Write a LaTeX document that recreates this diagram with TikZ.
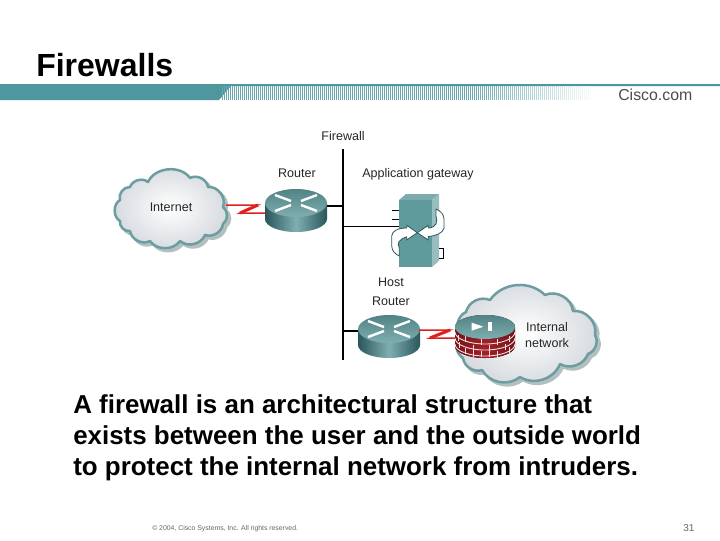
\documentclass[tikz,border=0pt]{standalone}
\usepackage{fontspec}
\setmainfont{Liberation Sans}
\usetikzlibrary{calc}
\definecolor{bandteal}{HTML}{4F979F}
\definecolor{devteal}{HTML}{5F9A9C}
\definecolor{devdark}{HTML}{2A565C}
\definecolor{devlight}{HTML}{7FAEB0}
\definecolor{cloudedge}{HTML}{6C9DA0}
\definecolor{cloudshade}{HTML}{B4C0C0}
\definecolor{cloudin}{HTML}{D6DADF}
\definecolor{brickred}{HTML}{A02028}
\definecolor{zigred}{HTML}{E0201C}
\newcommand{\cloudInternet}{(120,200) to[bend left=55] (130,187) to[bend left=55] (148,182) to[bend left=60] (190,178) to[bend left=55] (208,187) to[bend left=60] (223,207) to[bend left=55] (223,224) to[bend left=50] (205,235) to[bend left=55] (180,241) to[bend left=55] (150,241) to[bend left=55] (130,231) to[bend left=55] (120,221) to[bend left=60] cycle}
\newcommand{\cloudInside}{(466,312) to[bend left=50] (490,300) to[bend left=50] (545,295) to[bend left=55] (573,311) to[bend left=55] (595,335) to[bend left=50] (588,354) to[bend left=50] (560,364) to[bend left=50] (520,377) to[bend left=50] (482,370) to[bend left=50] (463,358) to[bend left=50] (460,335) to[bend left=50] cycle}
\tikzset{
  x=0.75pt,y=-0.75pt,
  px/.style={line width=#1*0.75pt},
  cloudbody/.style={draw=cloudedge,px=2.5,inner color=white,outer color=cloudin,line join=round},
  cloudback/.style={fill=cloudshade,draw=cloudshade,px=2.5,line join=round,shift={(3,3)}},
  lbl/.style={font=\fontsize{9.4pt}{11pt}\selectfont,text=black!85,inner sep=0pt},
  wire/.style={black,px=1.5},
  zigline/.style={zigred,px=1.5,line join=miter},
  hit/.style={inner sep=0pt,outer sep=0pt,rectangle},
  swirl/.style={fill=white,draw=devdark,px=0.8,line join=round},
  routerpic/.pic={
    \path[left color=devdark,right color=devdark,middle color=devlight]
      (-31,0) -- (-31,16) arc[start angle=180,end angle=0,x radius=31,y radius=13] -- (31,0) -- cycle;
    \path[top color=devteal!85!black,bottom color=devlight]
      (0,0) ellipse[x radius=31,y radius=14];
    \foreach \a/\b/\c/\d in {-21/-8/-5/-2, 21/-8/5/-2, -21/8/-5/2, 21/8/5/2}
      \draw[white,px=2.4] (\a,\b) -- (\c,\d);
  },
}
\begin{document}
\begin{tikzpicture}
\useasboundingbox[fill=white] (0,0) rectangle (720,540);
% header band
\fill[bandteal] (0,84) -- (720,84) -- (720,86) -- (231,86) -- (219,100) -- (0,100) -- cycle;
\foreach \i in {0,...,184}{
  \pgfmathsetmacro{\xx}{222+2*\i}
  \pgfmathsetmacro{\ff}{\xx<470 ? 85 : max(0,85-(\xx-470)/125*85)}
  \pgfmathsetmacro{\ww}{mod(\i,7)==0 ? 0.6 : (mod(\i,3)==0 ? 1.4 : 1)}
  \fill[bandteal!\ff!white] (\xx,86) rectangle ({\xx+\ww},100);
}
\node[anchor=west,inner sep=0pt,font=\bfseries\fontsize{24pt}{26pt}\selectfont] (title) at (36,65) {Firewalls};
\node[anchor=west,inner sep=0pt,text=black!70,font=\fontsize{11.9pt}{13pt}\selectfont] (brand) at (618,95) {Cisco.com};
% clouds
\path[cloudback] \cloudInternet;
\path[cloudbody] \cloudInternet;
\node[hit,font=\fontsize{9.4pt}{11pt}\selectfont,text=black!85] (internet) at (171,207) {Internet};
\path[cloudback] \cloudInside;
\path[cloudbody] \cloudInside;
% wires
\draw[wire] (343,149) coordinate (ltop) -- (343,360) coordinate (lbot);
\node[hit,minimum width=46.5pt,minimum height=34pt] (r1) at (296,209) {};
\node[hit,minimum width=46.5pt,minimum height=34pt] (r2) at (389,336) {};
\node[hit,minimum width=25pt,minimum height=50pt] (gw) at (415.5,233.5) {};
\coordinate (j1b) at (343,206);
\coordinate (j2) at (343,226);
\coordinate (j3) at (343,331);
\draw[black,px=2] (326,206) -- (j1b);
\draw[black,px=1] (j2) -- (399,226);
\draw[black,px=2] (j3) -- (358,331);
% zigzag 1
\coordinate (z1s) at (226,205);
\coordinate (z1a) at (258,205);
\coordinate (z1b) at (240,213);
\coordinate (z1e) at (266,213);
\draw[zigline] (z1s) -- (z1a) -- (z1b) -- (z1e);
\draw[zigred,px=3] (z1a) -- (z1b);
% routers
\pic at (296,203) {routerpic};
\pic at (389,329) {routerpic};
% gateway
\draw[black,px=1] (392,210) -- (399,210) (392,219) -- (399,219);
\fill[devlight!90!devteal] (399,200) -- (406,194) -- (439,194) -- (432,200) -- cycle;
\fill[devlight!80!white] (432,200) -- (439,194) -- (439,261) -- (432,267) -- cycle;
\fill[devteal] (399,200) rectangle (432,267);
\draw[black,px=1] (439,248) -- (443,248) -- (443,258) -- (439,258);
\draw[swirl] (417.3,232.7) -- (406.7,225.3) -- (406.7,228)
  .. controls (398,228) and (392,231) .. (391.7,236)
  -- (391.7,246)
  .. controls (392,251) and (395,254) .. (399.3,256)
  -- (399.3,248)
  .. controls (398,246) and (398,243) .. (399,241.5)
  .. controls (401,239) and (404,237.5) .. (406.7,236.7)
  -- (406.7,240) -- cycle;
\draw[swirl] (417.3,232.7) -- (428.3,225.3) -- (428.3,228)
  .. controls (432,228) and (435,226) .. (436,224)
  .. controls (437,221) and (437,218) .. (436,216)
  -- (436,209)
  .. controls (441,211) and (444,215) .. (444,219)
  -- (444,228)
  .. controls (443,233) and (436,236) .. (428.3,236.5)
  -- (428.3,240) -- cycle;
% zigzag 2
\coordinate (z2s) at (419,330);
\coordinate (z2a) at (450,330);
\coordinate (z2b) at (430,338);
\coordinate (z2e) at (456,338);
\draw[zigline] (z2s) -- (z2a) -- (z2b) -- (z2e);
\draw[zigred,px=3] (z2a) -- (z2b);
% firewall cylinder
\node[hit,minimum width=45pt,minimum height=32pt] (fw) at (485,337) {};
\begin{scope}
  \clip (455,327) -- (455,346) arc[start angle=180,end angle=0,x radius=30,y radius=12] -- (515,327) -- cycle;
  \fill[left color=brickred!70!black,right color=brickred!70!black,middle color=brickred] (455,315) rectangle (515,360);
  \foreach \y in {326,332,338,344}
    \draw[white!85!red,px=0.9] (455,\y) arc[start angle=180,end angle=0,x radius=30,y radius=12];
  \foreach \xx/\y in {465/336,481/339,497/339,509/336,459/342,473/345,489/345,505/344,465/348,481/351,497/351,509/347,473/351,489/351,458/335}
    \draw[white!85!red,px=0.9] (\xx,\y) -- (\xx,{\y+6});
\end{scope}
\fill[top color=devteal!85!black,bottom color=devlight] (485,327) ellipse[x radius=30,y radius=12];
\fill[white] (471.7,322.7) -- (483.3,326.7) -- (471.7,330.7) -- cycle;
\fill[white] (488,322) rectangle (492,331);
% labels
\node[lbl] (lfw) at (343,136) {Firewall};
\node[lbl] (lr1) at (297,173) {Router};
\node[lbl] (lag) at (418,174) {Application gateway};
\node[lbl] (lh) at (391,282) {Host};
\node[lbl] (lr2) at (391,301) {Router};
\node[lbl,align=center,font=\fontsize{9.4pt}{12pt}\selectfont] (lin) at (547,335) {Internal\\network};
% body
\node[anchor=west,align=left,inner sep=0pt,font=\bfseries\fontsize{19.45pt}{23.25pt}\selectfont] (body) at (73,438)
  {A firewall is an architectural structure that\\exists between the user and the outside world\\to protect the internal network from intruders.};
% footer
\node[anchor=west,inner sep=0pt,text=black!60,font=\fontsize{5.15pt}{6pt}\selectfont] (foot) at (152,529) {© 2004, Cisco Systems, Inc. All rights reserved.};
\node[anchor=west,inner sep=0pt,text=black!60,font=\fontsize{7.5pt}{9pt}\selectfont] (pg) at (683,528) {31};
\end{tikzpicture}
\end{document}
